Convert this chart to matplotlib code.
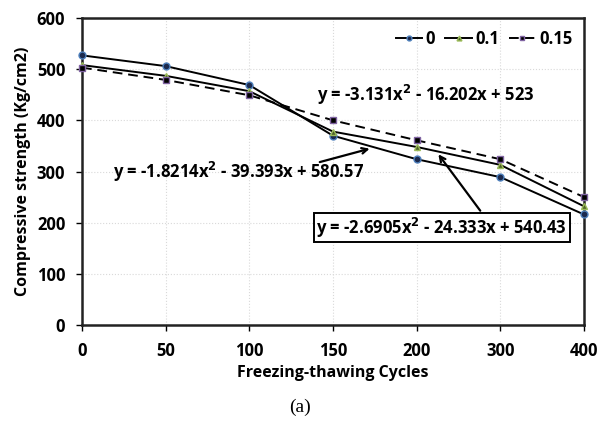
import matplotlib.pyplot as plt

plt.rcParams["font.family"] = ["Open Sans", "DejaVu Sans"]
plt.rcParams["font.weight"] = "bold"

cycles = ["0", "50", "100", "150", "200", "300", "400"]
s0 = [527, 506, 469, 370, 324, 289, 216]
s01 = [508, 487, 457, 378, 348, 313, 232]
s015 = [503, 479, 449, 400, 361, 324, 250]

x = list(range(len(cycles)))

fig = plt.figure(figsize=(6.01, 4.24), dpi=100)
ax = fig.add_axes([0.1364, 0.2335, 0.8353, 0.724])

ax.plot(x, s0, color="black", lw=1.4, marker="o", ms=5, clip_on=False, zorder=3,
        mfc="#1c2a4e", mec="#4f81bd", mew=1, label="0")
ax.plot(x, s01, color="black", lw=1.4, marker="^", ms=5, clip_on=False, zorder=3,
        mfc="#4f6228", mec="#9bbb59", mew=1, label="0.1")
ax.plot(x, s015, color="black", lw=1.4, ls=(0, (5, 3)), marker="s", ms=5, clip_on=False,
        zorder=3, mfc="black", mec="#8064a2", mew=1, label="0.15")

ax.set_xlim(0, 6)
ax.set_ylim(0, 600)
ax.set_xticks(x)
ax.set_xticklabels(cycles)
ax.set_yticks(range(0, 601, 100))
ax.tick_params(labelsize=12, length=4, width=1, pad=8)
for lab in ax.get_xticklabels() + ax.get_yticklabels():
    lab.set_fontweight("bold")
ax.grid(True, color="#d9d9d9", ls=":", lw=0.8)
ax.set_axisbelow(True)
for sp in ax.spines.values():
    sp.set_linewidth(1.8)
    sp.set_color("#222222")

ax.set_xlabel("Freezing-thawing Cycles", fontsize=11.5, fontweight="bold", labelpad=4)
ax.set_ylabel("Compressive strength (Kg/cm2)", fontsize=11.5, fontweight="bold", labelpad=4)

leg = ax.legend(loc="upper right", ncol=3, frameon=False, handlelength=1.6,
                handletextpad=0.2, columnspacing=0.6, borderaxespad=0.3,
                markerscale=0.7, prop={"size": 12, "weight": "bold"})

ax.text(4.11, 449, "y = -3.131x$^{\\mathbf{2}}$ - 16.202x + 523", ha="center", va="center",
        fontsize=12, fontweight="bold")
ax.text(0.37, 299, "y = -1.8214x$^{\\mathbf{2}}$ - 39.393x + 580.57", ha="left", va="center",
        fontsize=12, fontweight="bold")
ax.text(4.30, 190, "y = -2.6905x$^{\\mathbf{2}}$ - 24.333x + 540.43", ha="center", va="center",
        fontsize=12, fontweight="bold",
        bbox=dict(boxstyle="square,pad=0.15", fc="white", ec="black", lw=1.4))

ax.annotate("", xy=(3.47, 346), xytext=(2.81, 317),
            arrowprops=dict(arrowstyle="->", color="black", lw=1.6))
ax.annotate("", xy=(4.24, 338), xytext=(4.78, 219),
            arrowprops=dict(arrowstyle="->", color="black", lw=1.6))

fig.text(0.5, 0.04, "(a)", ha="center", va="center", fontsize=14,
         fontweight="normal", family="Liberation Serif")

fig.savefig("out.png", dpi=100)
